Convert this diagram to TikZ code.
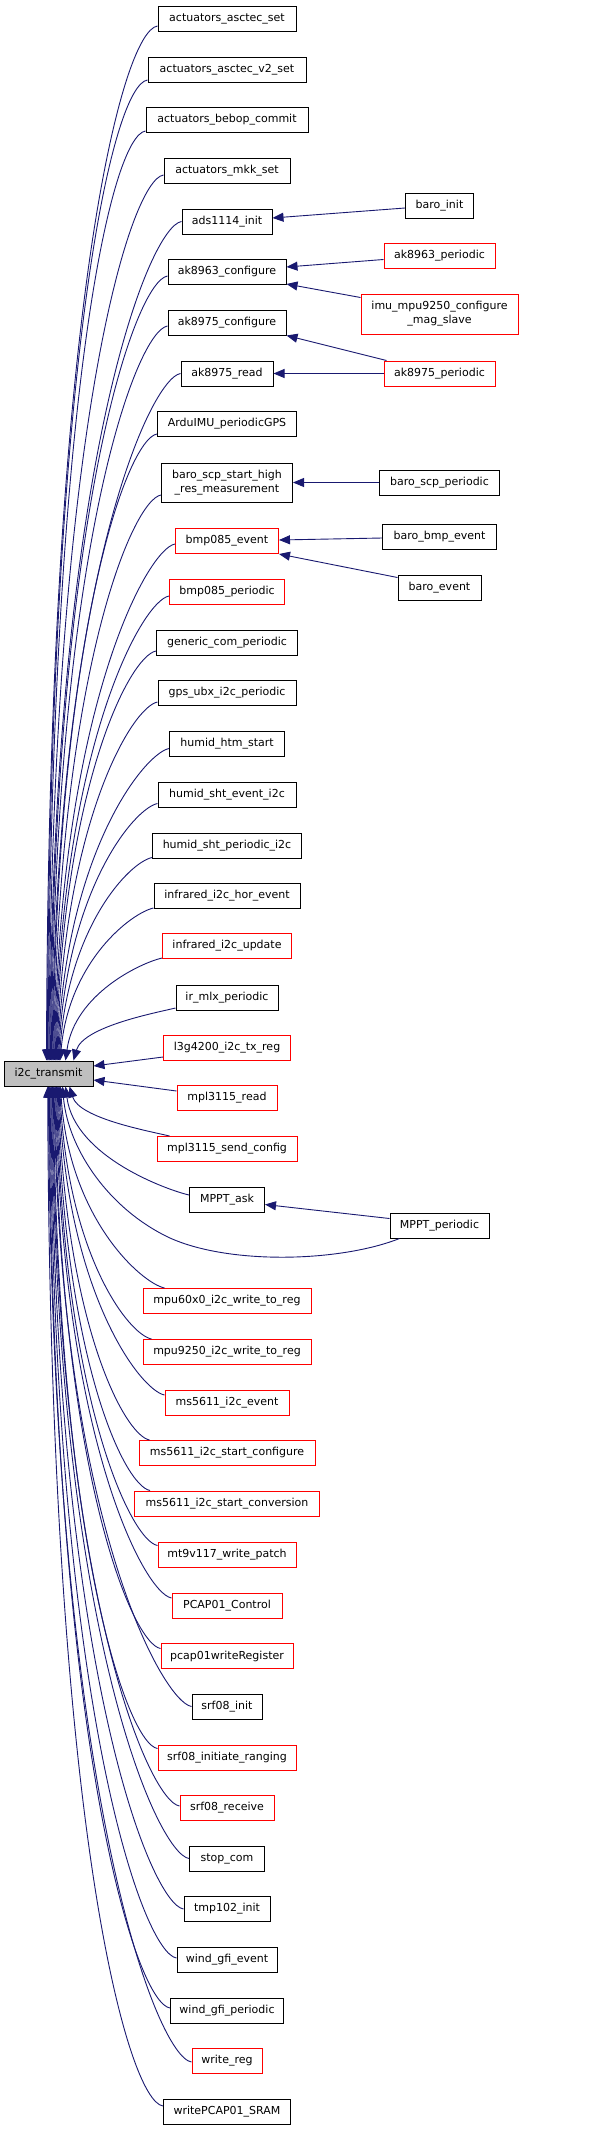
\documentclass[tikz,border=0pt]{standalone}
\usepackage{fontspec}
\setmainfont{DejaVu Sans}
\usetikzlibrary{arrows.meta,calc}
\definecolor{edgec}{HTML}{191970}
\definecolor{redc}{HTML}{FF0000}
\definecolor{grayfill}{HTML}{BFBFBF}
\tikzset{
 fn/.style={draw=black, line width=1pt, fill=white, inner sep=0pt, minimum height=25pt,
   font=\fontsize{11}{14}\selectfont, align=center, text=black},
 fnred/.style={fn, draw=redc},
 edge/.style={draw=edgec, line width=0.9pt, -{Triangle[length=11pt,width=9pt]}},
}
\newcommand\calledge[2]{%
  \draw[edge] let \p1=(#1), \p2=(#2), \n1={abs(\y1-\y2)}, \n2={(\y1-\y2)/abs(\y1-\y2)} in
  (\p1) .. controls ({\x1-20pt-0.015*\n1}, {\y1-5*\n2}) and ({\x2+10pt-8*\n1/1035}, {\y1-(0.36-0.09*\n1/1035)*(\y1-\y2)}) .. (\p2);%
}
\begin{document}
\begin{tikzpicture}[x=1pt,y=-1pt]
\useasboundingbox (0,0) rectangle (600,2131);
% central node
\node[fn, fill=grayfill, minimum width=89pt] (t) at (48.5,1073.5) {i2c\_transmit};
% left column
\node[fn, minimum width=138pt] (n1) at (227,18.5) {actuators\_asctec\_set};
\node[fn, minimum width=158pt] (n2) at (227,69.5) {actuators\_asctec\_v2\_set};
\node[fn, minimum width=162pt] (n3) at (227,120) {actuators\_bebop\_commit};
\node[fn, minimum width=126pt] (n4) at (227,171) {actuators\_mkk\_set};
\node[fn, minimum width=90pt] (n5) at (227,221.5) {ads1114\_init};
\node[fn, minimum width=118pt] (n6) at (227,272) {ak8963\_configure};
\node[fn, minimum width=118pt] (n7) at (227,322.5) {ak8975\_configure};
\node[fn, minimum width=92pt] (n8) at (227,373.5) {ak8975\_read};
\node[fn, minimum width=139pt] (n9) at (227,424) {ArduIMU\_periodicGPS};
\node[fn, minimum width=131pt, minimum height=39pt] (n10) at (227,482.5) {baro\_scp\_start\_high\\\_res\_measurement};
\node[fnred, minimum width=103pt] (n11) at (227,541) {bmp085\_event};
\node[fnred, minimum width=115pt] (n12) at (227,592) {bmp085\_periodic};
\node[fn, minimum width=141pt] (n13) at (227,642.5) {generic\_com\_periodic};
\node[fn, minimum width=138pt] (n14) at (227,693) {gps\_ubx\_i2c\_periodic};
\node[fn, minimum width=115pt] (n15) at (227,743.5) {humid\_htm\_start};
\node[fn, minimum width=138pt] (n16) at (227,794.5) {humid\_sht\_event\_i2c};
\node[fn, minimum width=149pt] (n17) at (227,845.5) {humid\_sht\_periodic\_i2c};
\node[fn, minimum width=146pt] (n18) at (227,896) {infrared\_i2c\_hor\_event};
\node[fnred, minimum width=129pt] (n19) at (227,946) {infrared\_i2c\_update};
\node[fn, minimum width=102pt] (n20) at (227,997.5) {ir\_mlx\_periodic};
\node[fnred, minimum width=127pt] (n21) at (227,1048) {l3g4200\_i2c\_tx\_reg};
\node[fnred, minimum width=100pt] (n22) at (227,1098) {mpl3115\_read};
\node[fnred, minimum width=140pt] (n23) at (227,1149) {mpl3115\_send\_config};
\node[fn, minimum width=75pt] (n24) at (227,1199.5) {MPPT\_ask};
\node[fnred, minimum width=168pt] (n25) at (227,1301) {mpu60x0\_i2c\_write\_to\_reg};
\node[fnred, minimum width=168pt] (n26) at (227,1352) {mpu9250\_i2c\_write\_to\_reg};
\node[fnred, minimum width=124pt] (n27) at (227,1402.5) {ms5611\_i2c\_event};
\node[fnred, minimum width=176pt] (n28) at (227,1453) {ms5611\_i2c\_start\_configure};
\node[fnred, minimum width=185pt] (n29) at (227,1503.5) {ms5611\_i2c\_start\_conversion};
\node[fnred, minimum width=138pt] (n30) at (227,1554.5) {mt9v117\_write\_patch};
\node[fnred, minimum width=110pt] (n31) at (227,1605.5) {PCAP01\_Control};
\node[fnred, minimum width=132pt] (n32) at (227,1656) {pcap01writeRegister};
\node[fn, minimum width=70pt] (n33) at (227,1706.5) {srf08\_init};
\node[fnred, minimum width=138pt] (n34) at (227,1757.5) {srf08\_initiate\_ranging};
\node[fnred, minimum width=94pt] (n35) at (227,1808) {srf08\_receive};
\node[fn, minimum width=75pt] (n36) at (227,1858.5) {stop\_com};
\node[fn, minimum width=86pt] (n37) at (227,1909) {tmp102\_init};
\node[fn, minimum width=100pt] (n38) at (227,1959.5) {wind\_gfi\_event};
\node[fn, minimum width=113pt] (n39) at (227,2010.5) {wind\_gfi\_periodic};
\node[fnred, minimum width=70pt] (n40) at (227,2061) {write\_reg};
\node[fn, minimum width=127pt] (n41) at (227,2111.5) {writePCAP01\_SRAM};
% right column
\node[fn, minimum width=68pt] (bi) at (439.5,205.5) {baro\_init};
\node[fnred, minimum width=111pt] (akp) at (439.5,255.5) {ak8963\_periodic};
\node[fnred, minimum width=157pt, minimum height=40pt] (imu) at (439.5,314) {imu\_mpu9250\_configure\\\_mag\_slave};
\node[fnred, minimum width=111pt] (akq) at (439.5,373.5) {ak8975\_periodic};
\node[fn, minimum width=120pt] (bsp) at (439.5,482.5) {baro\_scp\_periodic};
\node[fn, minimum width=114pt] (bbe) at (439.5,537) {baro\_bmp\_event};
\node[fn, minimum width=83pt] (be) at (439.5,587.5) {baro\_event};
\node[fn, minimum width=99pt] (mp) at (439.5,1225.5) {MPPT\_periodic};
% right-column edges
\draw[edge] ($(bi.west)+(0,2.5)$) -- ($(n5.east)+(0,-3.5)$);
\draw[edge] ($(akp.west)+(0,4)$) -- ($(n6.east)+(0,-5)$);
\draw[edge] ($(imu.north west)+(0,4)$) -- ($(n6.south east)+(0,-1)$);
\draw[edge] ($(akq.north west)+(3,0)$) -- (n7.south east);
\draw[edge] (akq.west) -- (n8.east);
\draw[edge] (bsp.west) -- (n10.east);
\draw[edge] ($(bbe.west)+(0,1)$) -- ($(n11.east)+(0,-1)$);
\draw[edge] ($(be.north west)+(0,3)$) -- (n11.south east);
\draw[edge] ($(mp.west)+(0,-7)$) -- ($(n24.east)+(0,5)$);
% edges into i2c_transmit from above
\calledge{$(n1.west)+(0,7.5)$}{$(t.north west)+(43,0)$}
\calledge{$(n2.west)+(0,10.5)$}{$(t.north west)+(43.8,0)$}
\calledge{$(n3.west)+(0,11)$}{$(t.north west)+(44.6,0)$}
\calledge{$(n4.west)+(0,4)$}{$(t.north west)+(45.4,0)$}
\calledge{$(n5.west)+(0,0)$}{$(t.north west)+(46.2,0)$}
\calledge{$(n6.west)+(0,4)$}{$(t.north west)+(47,0)$}
\calledge{$(n7.west)+(0,3.5)$}{$(t.north west)+(47.8,0)$}
\calledge{$(n8.west)+(0,0)$}{$(t.north west)+(48.6,0)$}
\calledge{$(n9.west)+(0,10)$}{$(t.north west)+(49.4,0)$}
\calledge{$(n10.west)+(0,12.5)$}{$(t.north west)+(50.2,0)$}
\calledge{$(n11.west)+(0,3)$}{$(t.north west)+(51,0)$}
\calledge{$(n12.west)+(0,4)$}{$(t.north west)+(51.8,0)$}
\calledge{$(n13.west)+(0,8.5)$}{$(t.north west)+(52.6,0)$}
\calledge{$(n14.west)+(0,9)$}{$(t.north west)+(53.4,0)$}
\calledge{$(n15.west)+(0,5)$}{$(t.north west)+(54.2,0)$}
\calledge{$(n16.west)+(0,9)$}{$(t.north west)+(55,0)$}
\calledge{$(n17.west)+(0,12)$}{$(t.north west)+(55.8,0)$}
\calledge{$(n18.west)+(0,12)$}{$(t.north west)+(56.6,0)$}
\calledge{$(n19.west)+(0,12)$}{$(t.north west)+(62,0)$}
\calledge{$(n20.west)+(0,10.5)$}{$(t.north west)+(70,0)$}
\draw[edge] ($(n21.west)+(0,9)$) -- ($(t.east)+(0,-7.5)$);
\draw[edge] ($(n22.west)+(0,-7)$) -- ($(t.east)+(0,6.5)$);
% edges into i2c_transmit from below
\calledge{$(n23.north west)+(13,0)$}{$(t.south west)+(66,0)$}
\calledge{$(n24.west)+(0,-4.5)$}{$(t.south west)+(62,0)$}
\draw[edge] ($(mp.south west)+(10,0)$) .. controls (340,1262) and (230,1265) .. (170,1238)
  .. controls (110,1210) and (68,1150) .. ($(t.south west)+(59,0)$);
\calledge{$(n25.north west)+(22,0)$}{$(t.south west)+(57,0)$}
\calledge{$(n26.north west)+(9,0)$}{$(t.south west)+(56.2,0)$}
\calledge{$(n27.west)+(0,-7.5)$}{$(t.south west)+(55.4,0)$}
\calledge{$(n28.north west)+(11,0)$}{$(t.south west)+(54.6,0)$}
\calledge{$(n29.north west)+(16,0)$}{$(t.south west)+(53.8,0)$}
\calledge{$(n30.west)+(0,-9)$}{$(t.south west)+(53,0)$}
\calledge{$(n31.west)+(0,-7.5)$}{$(t.south west)+(52.2,0)$}
\calledge{$(n32.west)+(0,-7.5)$}{$(t.south west)+(51.4,0)$}
\calledge{$(n33.west)+(0,0)$}{$(t.south west)+(50.6,0)$}
\calledge{$(n34.west)+(0,-9)$}{$(t.south west)+(49.8,0)$}
\calledge{$(n35.west)+(0,-2)$}{$(t.south west)+(49,0)$}
\calledge{$(n36.west)+(0,0)$}{$(t.south west)+(48.2,0)$}
\calledge{$(n37.west)+(0,0)$}{$(t.south west)+(47.4,0)$}
\calledge{$(n38.west)+(0,-1.5)$}{$(t.south west)+(46.6,0)$}
\calledge{$(n39.west)+(0,-2.5)$}{$(t.south west)+(45.8,0)$}
\calledge{$(n40.west)+(0,1)$}{$(t.south west)+(45,0)$}
\calledge{$(n41.west)+(0,-5.5)$}{$(t.south west)+(44.2,0)$}
\end{tikzpicture}
\end{document}
